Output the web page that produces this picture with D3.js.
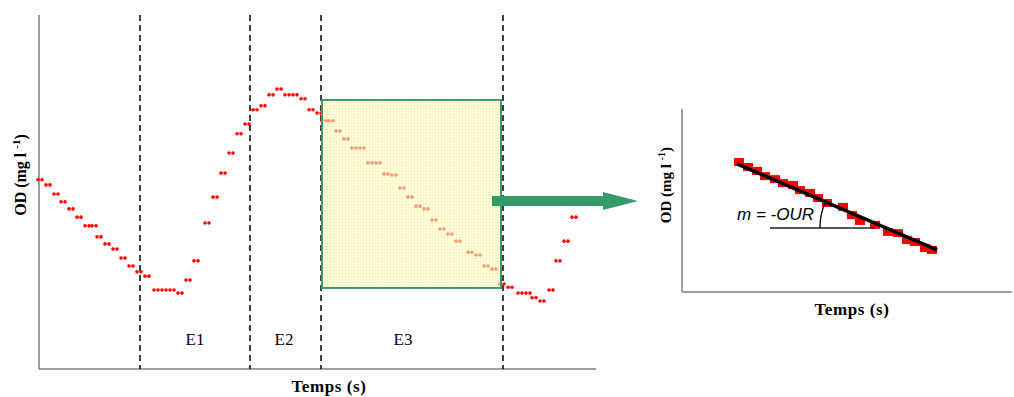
<!DOCTYPE html>
<html lang="en">

<head>
  <meta charset="utf-8">
  <style>
    body {
      margin: 0;
      padding: 0;
      background: #fff;
    }

    .lbl {
      font-family: "Liberation Serif", "Times New Roman", serif;
      font-weight: bold;
      fill: #000;
    }
  </style>
</head>

<body>
  <svg width="1014" height="397"></svg>
  <script src="https://d3js.org/d3.v7.min.js"></script>
  <script>
    // main chart: dissolved oxygen over time (s), mg/l
    var timeS = [5, 45, 85, 120, 160, 200, 240, 275, 300, 340, 380, 420, 460, 500, 540,
      585, 625, 665, 705, 745, 785, 840, 880, 920, 960, 1000, 1040, 1080, 1120, 1160,
      1200, 1240, 1280, 1320, 1360, 1400, 1425, 1460, 1495, 1535, 1575, 1615, 1655, 1695,
      1735, 1775, 1815, 1855, 1895, 1935, 1975, 2015, 2055, 2095, 2155, 2195, 2235, 2275,
      2315, 2355, 2405, 2445, 2475, 2515, 2560, 2595, 2635, 2675];
    var odValues = [4.81, 4.68, 4.45, 4.25, 4.07, 3.86, 3.64, 3.64, 3.36, 3.18, 3.05, 2.82, 2.62, 2.47, 2.36,
      2.01, 2.01, 2.01, 1.93, 2.26, 2.75, 3.71, 4.37, 4.98, 5.49, 5.98, 6.23, 6.59, 6.69, 6.97,
      7.12, 6.97, 6.97, 6.87, 6.59, 6.51, 6.31, 6.31, 6.05, 5.85, 5.62, 5.62, 5.24, 5.24,
      4.96, 4.93, 4.60, 4.37, 4.14, 4.07, 3.79, 3.56, 3.43, 3.25, 2.97, 2.90, 2.62, 2.54,
      2.16, 2.08, 1.93, 1.93, 1.81, 1.73, 2.01, 2.75, 3.25, 3.86];

    // phase boundaries (s) and labels
    var phaseLines = [505, 1055, 1410, 2320];
    var phaseNames = ["E1", "E2", "E3"];
    var phaseLabelT = [780, 1225, 1820];

    // highlighted window used for the slope
    var windowT = [1415, 2310];
    var windowOD = [2.06, 6.84];

    // zoomed panel (relative time, s)
    var zoomT = [57, 66, 75, 83, 93, 101, 111, 118, 128, 136, 145, 161, 170, 178, 193, 206, 216, 225, 233, 243, 250];
    var zoomOD = [4.26, 4.10, 3.97, 3.80, 3.70, 3.57, 3.51, 3.34, 3.25, 3.08, 2.92, 2.79, 2.52, 2.33, 2.20, 1.97, 1.93, 1.70, 1.64, 1.44, 1.38];
    var fitT = [55, 255];
    var fitOD = [4.20, 1.38];
    var refT = [88, 193];
    var refOD = 2.10;

    var svg = d3.select("svg");

    var x = d3.scaleLinear().domain([0, 2785]).range([39, 596]);
    var y = d3.scaleLinear().domain([0, 9]).range([369, 15]);

    var g = svg.append("g");

    // axes (plain lines, no ticks)
    g.append("line")
      .attr("x1", x(0)).attr("x2", x(0))
      .attr("y1", y(9)).attr("y2", y(0))
      .attr("stroke", "#7f7f7f").attr("stroke-width", 1.5);
    g.append("line")
      .attr("x1", x(0)).attr("x2", x(2785))
      .attr("y1", y(0)).attr("y2", y(0))
      .attr("stroke", "#7f7f7f").attr("stroke-width", 1.5);

    // phase separators
    g.selectAll(".phase")
      .data(phaseLines)
      .enter().append("line")
      .attr("class", "phase")
      .attr("x1", function(d) { return x(d); })
      .attr("x2", function(d) { return x(d); })
      .attr("y1", y(9))
      .attr("y2", y(0))
      .attr("stroke", "#000")
      .attr("stroke-width", 1.5)
      .attr("stroke-dasharray", "6,4");

    g.selectAll(".phaseName")
      .data(phaseNames)
      .enter().append("text")
      .attr("x", function(d, i) { return x(phaseLabelT[i]); })
      .attr("y", 345)
      .attr("text-anchor", "middle")
      .style("font-family", "'Liberation Serif', serif")
      .style("font-size", "17px")
      .text(function(d) { return d; });

    // points: each marker is a pair of small dots
    var pts = g.append("g").attr("fill", "#ff0000");
    timeS.forEach(function(t, i) {
      [-2, 2].forEach(function(off) {
        pts.append("circle")
          .attr("cx", x(t) + off)
          .attr("cy", y(odValues[i]))
          .attr("r", 1.8);
      });
    });

    // yellow grid pattern for the selected window
    var defs = svg.append("defs");
    var pat = defs.append("pattern")
      .attr("id", "grid")
      .attr("width", 3).attr("height", 3)
      .attr("patternUnits", "userSpaceOnUse");
    pat.append("rect").attr("width", 3).attr("height", 3).attr("fill", "#ffffd2");
    pat.append("path").attr("d", "M0,0.5H3M0.5,0V3")
      .attr("stroke", "#f6f3a0").attr("stroke-width", 1);

    g.append("rect")
      .attr("x", x(windowT[0]))
      .attr("y", y(windowOD[1]))
      .attr("width", x(windowT[1]) - x(windowT[0]))
      .attr("height", y(windowOD[0]) - y(windowOD[1]))
      .attr("fill", "url(#grid)")
      .attr("fill-opacity", 0.62)
      .attr("stroke", "#3d9b6d")
      .attr("stroke-width", 2);

    // arrow to zoom panel
    g.append("path")
      .attr("d", "M492,196H603V192L638,201L603,210V206H492Z")
      .attr("fill", "#359a69");

    // main axis titles
    var yl = svg.append("text")
      .attr("class", "lbl")
      .attr("transform", "translate(26,175) rotate(-90)")
      .attr("text-anchor", "middle")
      .style("font-size", "16px");
    yl.append("tspan").text("OD (mg l ");
    yl.append("tspan").attr("dy", "-6").style("font-size", "11px").text("-1");
    yl.append("tspan").attr("dy", "6").text(")");

    svg.append("text")
      .attr("class", "lbl")
      .attr("x", 329)
      .attr("y", 392)
      .attr("text-anchor", "middle")
      .style("font-size", "17px")
      .style("letter-spacing", "0.6px")
      .text("Temps (s)");

    // zoom panel
    var x2 = d3.scaleLinear().domain([0, 330]).range([682, 1012]);
    var y2 = d3.scaleLinear().domain([0, 6]).range([292, 109]);
    var g2 = svg.append("g");

    g2.append("line")
      .attr("x1", x2(0)).attr("x2", x2(0))
      .attr("y1", y2(6)).attr("y2", y2(0))
      .attr("stroke", "#7f7f7f").attr("stroke-width", 1.5);
    g2.append("line")
      .attr("x1", x2(0)).attr("x2", x2(330))
      .attr("y1", y2(0)).attr("y2", y2(0))
      .attr("stroke", "#7f7f7f").attr("stroke-width", 1.5);

    g2.selectAll(".sq")
      .data(zoomT)
      .enter().append("rect")
      .attr("class", "sq")
      .attr("x", function(d) { return x2(d) - 5; })
      .attr("y", function(d, i) { return y2(zoomOD[i]) - 4; })
      .attr("width", 10)
      .attr("height", 8)
      .attr("fill", "#ff0000");

    g2.append("line")
      .attr("x1", x2(fitT[0])).attr("y1", y2(fitOD[0]))
      .attr("x2", x2(fitT[1])).attr("y2", y2(fitOD[1]))
      .attr("stroke", "#000").attr("stroke-width", 3.5);

    // angle reference line and arc
    g2.append("line")
      .attr("x1", x2(refT[0])).attr("x2", x2(refT[1]))
      .attr("y1", y2(refOD)).attr("y2", y2(refOD))
      .attr("stroke", "#222").attr("stroke-width", 1.5);

    var slope = (y2(fitOD[1]) - y2(fitOD[0])) / (x2(fitT[1]) - x2(fitT[0]));
    var cx = x2(fitT[0]) + (y2(refOD) - y2(fitOD[0])) / slope;
    var cy = y2(refOD);
    var r = 66;
    var ang = Math.atan(slope);
    var ax = cx - r * Math.cos(ang), ay = cy - r * Math.sin(ang);
    g2.append("path")
      .attr("d", "M" + (cx - r) + "," + cy + " A" + r + "," + r + " 0 0 1 " + ax + "," + ay)
      .attr("fill", "none")
      .attr("stroke", "#000")
      .attr("stroke-width", 1.3);

    g2.append("text")
      .attr("x", 737)
      .attr("y", 220)
      .style("font-family", "'Liberation Sans', Arial, sans-serif")
      .style("font-style", "italic")
      .style("font-size", "17px")
      .text("m = -OUR");

    var yl2 = svg.append("text")
      .attr("class", "lbl")
      .attr("transform", "translate(671,185) rotate(-90)")
      .attr("text-anchor", "middle")
      .style("font-size", "15px");
    yl2.append("tspan").text("OD (mg l ");
    yl2.append("tspan").attr("dy", "-6").style("font-size", "10px").text("-1");
    yl2.append("tspan").attr("dy", "6").text(")");

    svg.append("text")
      .attr("class", "lbl")
      .attr("x", 852)
      .attr("y", 315)
      .attr("text-anchor", "middle")
      .style("font-size", "17px")
      .style("letter-spacing", "0.6px")
      .text("Temps (s)");
  </script>
</body>

</html>
